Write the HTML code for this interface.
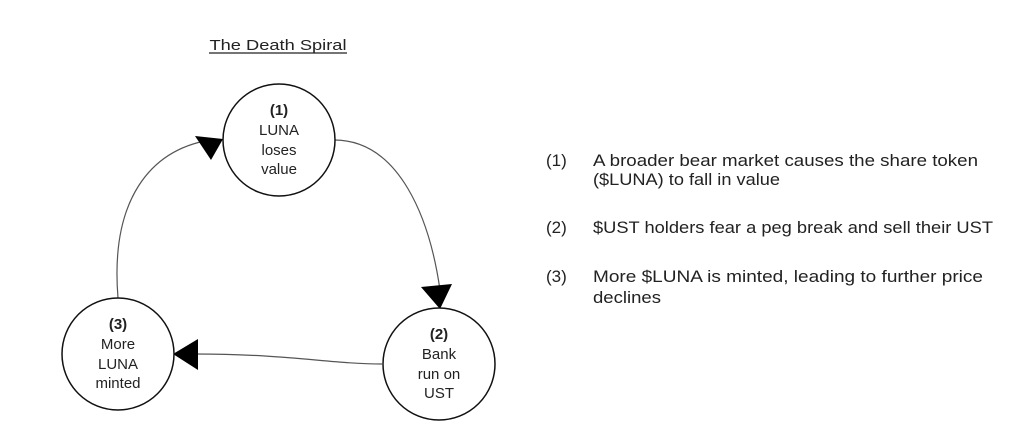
<!DOCTYPE html>
<html><head><meta charset="utf-8"><style>html,body{margin:0;padding:0;background:#fff}svg{display:block}</style></head>
<body>
<svg width="1024" height="438" viewBox="0 0 1024 438" xmlns="http://www.w3.org/2000/svg" font-family="Liberation Sans, sans-serif" fill="#222">
<text x="278" y="50" font-size="15" text-anchor="middle" textLength="137" lengthAdjust="spacingAndGlyphs">The Death Spiral</text>
<line x1="209" y1="53" x2="347" y2="53" stroke="#222" stroke-width="1.2"/>
<g fill="none" stroke="#555" stroke-width="1.2">
<path d="M334,140 C400,140 430,220 440,290"/>
<path d="M382,364 C330,364 290,354 195,354"/>
<path d="M118,298 C110,200 150,150 210,140"/>
</g>
<g fill="#000">
<polygon points="440,309 421,287 452,284"/>
<polygon points="173,354 198,339 198,370"/>
<polygon points="223,139 195,136 211,160"/>
</g>
<g fill="#fff" stroke="#111" stroke-width="1.5">
<circle cx="279" cy="140" r="56"/>
<circle cx="439" cy="364" r="56"/>
<circle cx="118" cy="354" r="56"/>
</g>
<g font-size="15" text-anchor="middle">
<text x="279" y="115" font-weight="bold">(1)</text>
<text x="279" y="135">LUNA</text>
<text x="279" y="155">loses</text>
<text x="279" y="174">value</text>
<text x="439" y="339" font-weight="bold">(2)</text>
<text x="439" y="359">Bank</text>
<text x="439" y="379">run on</text>
<text x="439" y="398">UST</text>
<text x="118" y="329" font-weight="bold">(3)</text>
<text x="118" y="349">More</text>
<text x="118" y="369">LUNA</text>
<text x="118" y="388">minted</text>
</g>
<g font-size="17">
<text x="546" y="166">(1)</text>
<text x="593" y="166" textLength="385" lengthAdjust="spacingAndGlyphs">A broader bear market causes the share token</text>
<text x="593" y="185" textLength="187" lengthAdjust="spacingAndGlyphs">($LUNA) to fall in value</text>
<text x="546" y="233">(2)</text>
<text x="593" y="233" textLength="400" lengthAdjust="spacingAndGlyphs">$UST holders fear a peg break and sell their UST</text>
<text x="546" y="282">(3)</text>
<text x="593" y="282" textLength="390" lengthAdjust="spacingAndGlyphs">More $LUNA is minted, leading to further price</text>
<text x="593" y="303" textLength="68" lengthAdjust="spacingAndGlyphs">declines</text>
</g>
</svg>
</body></html>
